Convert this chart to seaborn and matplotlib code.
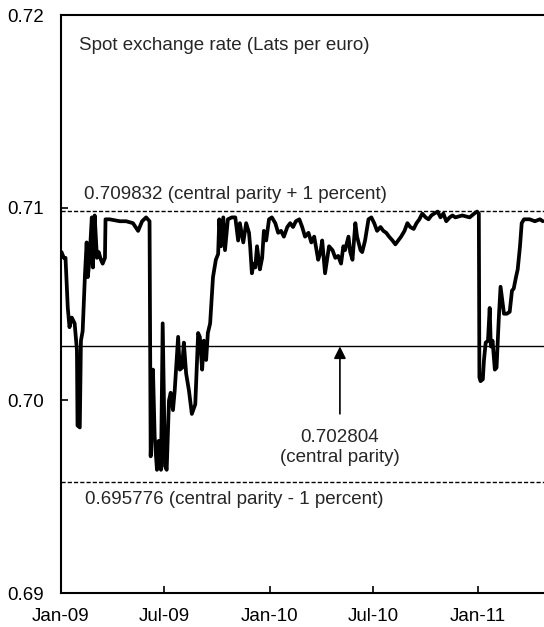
import pandas as pd
import numpy as np
import matplotlib
matplotlib.use("Agg")
import matplotlib.pyplot as plt
import matplotlib.dates as mdates
import seaborn as sns

# Spot exchange rate, lats per euro
dates = [
    "2009-01-02", "2009-01-06", "2009-01-09", "2009-01-13", "2009-01-16", "2009-01-20",
    "2009-01-25", "2009-01-29", "2009-01-30", "2009-02-03", "2009-02-05", "2009-02-08",
    "2009-02-12", "2009-02-15", "2009-02-17", "2009-02-20", "2009-02-24", "2009-02-26",
    "2009-03-01", "2009-03-05", "2009-03-08", "2009-03-12", "2009-03-15", "2009-03-19",
    "2009-03-20", "2009-03-27", "2009-04-14", "2009-04-25", "2009-05-07", "2009-05-16",
    "2009-05-23", "2009-05-30", "2009-06-05", "2009-06-07", "2009-06-11", "2009-06-14",
    "2009-06-18", "2009-06-21", "2009-06-25", "2009-06-28", "2009-07-02", "2009-07-05",
    "2009-07-09", "2009-07-12", "2009-07-16", "2009-07-19", "2009-07-25", "2009-07-28",
    "2009-08-01", "2009-08-04", "2009-08-08", "2009-08-13", "2009-08-18", "2009-08-24",
    "2009-08-29", "2009-09-01", "2009-09-05", "2009-09-08", "2009-09-12", "2009-09-15",
    "2009-09-19", "2009-09-24", "2009-09-29", "2009-10-03", "2009-10-05", "2009-10-08",
    "2009-10-12", "2009-10-15", "2009-10-20", "2009-10-27", "2009-11-02", "2009-11-07",
    "2009-11-10", "2009-11-16", "2009-11-21", "2009-11-26", "2009-11-28", "2009-12-01",
    "2009-12-04", "2009-12-07", "2009-12-10", "2009-12-15", "2009-12-19", "2009-12-22",
    "2009-12-26", "2009-12-31",
    "2010-01-05", "2010-01-11", "2010-01-16", "2010-01-21", "2010-01-26", "2010-02-01",
    "2010-02-06", "2010-02-11", "2010-02-16", "2010-02-22", "2010-02-27", "2010-03-04",
    "2010-03-10", "2010-03-15", "2010-03-20", "2010-03-27", "2010-03-31", "2010-04-03",
    "2010-04-08", "2010-04-15", "2010-04-21", "2010-04-26", "2010-05-01", "2010-05-06",
    "2010-05-10", "2010-05-13", "2010-05-19", "2010-05-22", "2010-05-26", "2010-05-31",
    "2010-06-03", "2010-06-09", "2010-06-12", "2010-06-17", "2010-06-23", "2010-06-28",
    "2010-07-03", "2010-07-08", "2010-07-14", "2010-07-19", "2010-07-24", "2010-07-29",
    "2010-08-04", "2010-08-09", "2010-08-14", "2010-08-19", "2010-08-25", "2010-08-30",
    "2010-09-04", "2010-09-10", "2010-09-15", "2010-09-20", "2010-09-25", "2010-10-01",
    "2010-10-06", "2010-10-11", "2010-10-16", "2010-10-22", "2010-10-27", "2010-11-01",
    "2010-11-06", "2010-11-12", "2010-11-17", "2010-11-22", "2010-12-04", "2010-12-17",
    "2010-12-25", "2010-12-30",
    "2011-01-02", "2011-01-03", "2011-01-05", "2011-01-09", "2011-01-11", "2011-01-14",
    "2011-01-18", "2011-01-21", "2011-01-23", "2011-01-26", "2011-01-30", "2011-02-02",
    "2011-02-06", "2011-02-09", "2011-02-15", "2011-02-20", "2011-02-25", "2011-03-01",
    "2011-03-04", "2011-03-08", "2011-03-11", "2011-03-15", "2011-03-18", "2011-03-22",
    "2011-04-01", "2011-04-10", "2011-04-19", "2011-04-24",
]
rate = [
    0.7077, 0.7074, 0.7074, 0.7048, 0.7038, 0.7043,
    0.7040, 0.7026, 0.6987, 0.6986, 0.7031, 0.7036,
    0.7065, 0.7082, 0.7064, 0.7073, 0.7095, 0.7069,
    0.7096, 0.7074, 0.7077, 0.7073, 0.7071, 0.7074,
    0.7094, 0.7094, 0.7093, 0.7093, 0.7092, 0.7088,
    0.7093, 0.7095, 0.7093, 0.6971, 0.7016, 0.6981,
    0.6964, 0.6979, 0.6964, 0.7040, 0.6966, 0.6964,
    0.7000, 0.7004, 0.6995, 0.7005, 0.7033, 0.7016,
    0.7017, 0.7030, 0.7014, 0.7005, 0.6993, 0.6998,
    0.7035, 0.7033, 0.7016, 0.7031, 0.7021, 0.7035,
    0.7040, 0.7064, 0.7073, 0.7076, 0.7094, 0.7080,
    0.7095, 0.7078, 0.7094, 0.7095, 0.7095, 0.7083,
    0.7092, 0.7082, 0.7092, 0.7087, 0.7080, 0.7066,
    0.7071, 0.7069, 0.7080, 0.7068, 0.7074, 0.7088,
    0.7083, 0.7094,
    0.7095, 0.7092, 0.7087, 0.7088, 0.7085, 0.7090,
    0.7092, 0.7090, 0.7093, 0.7094, 0.7090, 0.7085,
    0.7087, 0.7082, 0.7085, 0.7073, 0.7077, 0.7083,
    0.7066, 0.7080, 0.7078, 0.7074, 0.7075, 0.7071,
    0.7080, 0.7078, 0.7085, 0.7077, 0.7073, 0.7092,
    0.7085, 0.7078, 0.7077, 0.7083, 0.7094, 0.7095,
    0.7092, 0.7088, 0.7090, 0.7088, 0.7087, 0.7085,
    0.7083, 0.7081, 0.7083, 0.7085, 0.7088, 0.7092,
    0.7090, 0.7089, 0.7092, 0.7094, 0.7097, 0.7095,
    0.7094, 0.7096, 0.7097, 0.7098, 0.7095, 0.7097,
    0.7093, 0.7095, 0.7096, 0.7095, 0.7096, 0.7095,
    0.7097, 0.7098,
    0.7097, 0.7012, 0.7010, 0.7011, 0.7021, 0.7030,
    0.7031, 0.7048, 0.7028, 0.7031, 0.7016, 0.7017,
    0.7043, 0.7059, 0.7045, 0.7045, 0.7046, 0.7057,
    0.7058, 0.7064, 0.7068, 0.7080, 0.7092, 0.7094,
    0.7094, 0.7093, 0.7094, 0.7093,
]

central = 0.702804
upper = 0.709832
lower = 0.695776
y_ticks = [0.69, 0.70, 0.71, 0.72]
y_labels = ["0.69", "0.70", "0.71", "0.72"]

df = pd.DataFrame({"date": pd.to_datetime(dates), "rate": rate})

sns.set_style("white")
plt.rcParams["font.family"] = ["Liberation Sans", "DejaVu Sans"]
fs = 13.5

fig = plt.figure(figsize=(5.44, 6.27), dpi=100)
ax = fig.add_axes([0.112, 0.054, 0.888, 0.922])

sns.lineplot(data=df, x="date", y="rate", color="black", linewidth=2.7, ax=ax)

ax.axhline(central, color="black", linewidth=1.0)
ax.axhline(upper, color="black", linewidth=1.0, linestyle=(0, (3, 1.5)))
ax.axhline(lower, color="black", linewidth=1.0, linestyle=(0, (3, 1.5)))

ax.set_xlim(pd.Timestamp("2009-01-01"), pd.Timestamp("2011-04-26"))
ax.set_ylim(0.69, 0.72)
ax.set_yticks(y_ticks)
ax.set_yticklabels(y_labels)
ax.xaxis.set_major_locator(mdates.MonthLocator(bymonth=[1, 7]))
ax.xaxis.set_major_formatter(mdates.DateFormatter("%b-%y"))
ax.set_xlabel("")
ax.set_ylabel("")

ax.tick_params(direction="in", length=5, width=1.2, labelsize=fs, colors="black",
               left=True, bottom=True)
ax.tick_params(axis="x", pad=11)
ax.tick_params(axis="y", pad=12)
ax.spines["right"].set_visible(False)
for side in ["left", "bottom", "top"]:
    ax.spines[side].set_color("black")
    ax.spines[side].set_linewidth(1.5)

ax.text(0.037, 0.947, "Spot exchange rate (Lats per euro)", transform=ax.transAxes,
        fontsize=fs, ha="left", va="center")
ax.text(pd.Timestamp("2009-02-10"), upper + 0.0004, "0.709832 (central parity + 1 percent)",
        fontsize=fs, ha="left", va="bottom")
ax.text(pd.Timestamp("2009-02-12"), lower - 0.0005, "0.695776 (central parity - 1 percent)",
        fontsize=fs, ha="left", va="top")

arrow_date = pd.Timestamp("2010-05-04")
ax.annotate("", xy=(arrow_date, central), xytext=(arrow_date, central - 0.0035),
            arrowprops=dict(arrowstyle="-|>", color="black", lw=1.2,
                            mutation_scale=18, shrinkA=0, shrinkB=0))
ax.text(arrow_date, central - 0.0043, "0.702804\n(central parity)", fontsize=fs,
        ha="center", va="top", linespacing=1.2)

fig.savefig("out.png", dpi=100)
